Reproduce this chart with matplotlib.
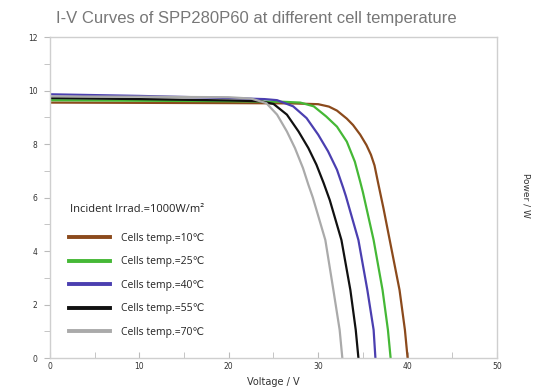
import matplotlib
matplotlib.use("Agg")
import matplotlib.pyplot as plt
from matplotlib.ticker import MultipleLocator

# Temperaturas e cores de cada curva
temps = [10, 25, 40, 55, 70]
cores = ["#8b4a1c", "#45b836", "#4b3fb0", "#111111", "#aaaaaa"]

# Pontos (tensão em V, corrente em A)
v_10 = [0, 10, 20, 27, 30.0, 31.2, 32.1, 33.2, 33.9, 34.7, 35.4, 35.9, 36.3,
        36.7, 37.3, 38.0, 39.1, 39.7, 40.0]
i_10 = [9.55, 9.54, 9.53, 9.52, 9.49, 9.4, 9.25, 8.95, 8.71, 8.35, 7.96, 7.6,
        7.2, 6.55, 5.6, 4.41, 2.54, 1.05, 0]

v_25 = [0, 10, 20, 26, 28, 29.5, 30.9, 32.1, 33.2, 34.1, 34.7, 35.0, 36.2,
        37.2, 37.8, 38.1]
i_25 = [9.64, 9.62, 9.6, 9.58, 9.55, 9.41, 9.03, 8.65, 8.09, 7.34, 6.59, 6.2,
        4.41, 2.54, 1.05, 0]

v_40 = [0, 10, 20, 24, 25.4, 27.2, 28.7, 30.0, 31.1, 32.1, 32.8, 33.1, 34.5,
        35.5, 36.2, 36.4]
i_40 = [9.86, 9.8, 9.72, 9.68, 9.64, 9.41, 8.97, 8.35, 7.73, 7.04, 6.36, 6.05,
        4.41, 2.54, 1.05, 0]

v_55 = [0, 10, 20, 23.5, 25.0, 26.5, 27.8, 28.9, 29.8, 30.6, 31.3, 32.6, 33.6,
        34.2, 34.5]
i_55 = [9.72, 9.68, 9.63, 9.6, 9.5, 9.1, 8.47, 7.85, 7.23, 6.55, 5.9, 4.41,
        2.54, 1.05, 0]

v_70 = [0, 10, 20, 22.5, 24.2, 25.4, 26.5, 27.4, 28.3, 28.9, 29.4, 30.8, 31.7,
        32.4, 32.7]
i_70 = [9.78, 9.77, 9.75, 9.7, 9.53, 9.1, 8.47, 7.85, 7.1, 6.48, 6.0, 4.41,
        2.54, 1.05, 0]

tensoes = [v_10, v_25, v_40, v_55, v_70]
correntes = [i_10, i_25, i_40, i_55, i_70]

fig = plt.figure(figsize=(5.51, 3.90), dpi=100)
ax = fig.add_axes([0.0907, 0.082, 0.8113, 0.823])

linhas = []
for v, i, c, t in zip(tensoes, correntes, cores, temps):
    ln, = ax.plot(v, i, color=c, linewidth=1.6, solid_joinstyle="round",
                  label=f"Cells temp.={t}℃")
    linhas.append(ln)

ax.set_xlim(0, 50)
ax.set_ylim(0, 12)
ax.xaxis.set_major_locator(MultipleLocator(10))
ax.xaxis.set_minor_locator(MultipleLocator(5))
ax.yaxis.set_major_locator(MultipleLocator(2))
ax.yaxis.set_minor_locator(MultipleLocator(1))

for s in ax.spines.values():
    s.set_color("#cfcfcf")
    s.set_linewidth(1.0)

ax.tick_params(axis="x", which="both", direction="in", length=4, color="#bbbbbb",
               labelsize=5.5, labelcolor="#333333", pad=3)
ax.tick_params(axis="y", which="both", direction="out", length=4, color="#bbbbbb",
               labelsize=5.5, labelcolor="#333333", pad=5)

ax.set_xlabel("Voltage / V", fontsize=7, color="#333333", labelpad=4)

# Rótulo do eixo da direita
fig.text(0.955, 0.5, "Power / W", rotation=270, fontsize=6.5, color="#333333",
         ha="center", va="center")

fig.text(0.465, 0.952, "I-V Curves of SPP280P60 at different cell temperature",
         fontsize=12, color="#777777", ha="center", va="center",
         family=["Liberation Sans", "DejaVu Sans"])

handles = []
for c in cores:
    h, = ax.plot([], [], color=c, linewidth=2.8)
    handles.append(h)

fonte_leg = ["Open Sans", "DejaVu Sans"]
leg = ax.legend(handles, [ln.get_label() for ln in linhas],
                title="Incident Irrad.=1000W/m²",
                loc="upper left", bbox_to_anchor=(0.022, 0.51),
                frameon=False, title_fontsize=8,
                handlelength=3.9, handletextpad=1.1, labelspacing=1.2,
                prop={"family": fonte_leg, "size": 7.5})
leg.get_title().set_family(fonte_leg)
leg.get_title().set_color("#222222")
leg._legend_box.sep = 13
for t in leg.get_texts():
    t.set_color("#222222")

plt.savefig("out.png", dpi=100)
